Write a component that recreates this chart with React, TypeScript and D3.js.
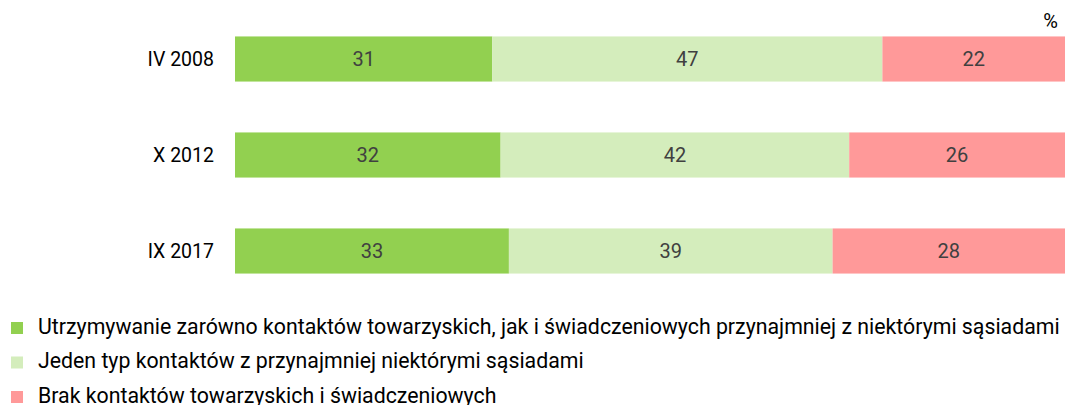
import React from "react";
import * as d3 from "d3";

const categories = ["IV 2008", "X 2012", "IX 2017"];
const seriesNames = [
  "Utrzymywanie zarówno kontaktów towarzyskich, jak i świadczeniowych przynajmniej z niektórymi sąsiadami",
  "Jeden typ kontaktów z przynajmniej niektórymi sąsiadami",
  "Brak kontaktów towarzyskich i świadczeniowych",
];
const both = [31, 32, 33];
const oneType = [47, 42, 39];
const none = [22, 26, 28];
const colors = ["#92d050", "#d4edbc", "#ff9999"];

const W = 1065;
const H = 405;

export default function App() {
  const series = [both, oneType, none];
  const x = d3.scaleLinear().domain([0, 100]).range([235, 1065]);
  const y = d3.scaleBand().domain(categories).range([11, 299]).paddingInner(0.53).paddingOuter(0.265);
  const font = "Roboto, sans-serif";
  return (
    <svg width={W} height={H} style={{ position: "absolute", left: 0, top: 0 }} fontFamily={font} fontWeight={400}>
      <rect width={W} height={H} fill="#fff" />
      <text x={1058} y={28} textAnchor="end" fontSize={20} fill="#000">%</text>
      {categories.map((c, i) => {
        let acc = 0;
        const y0 = y(c)!;
        const bw = y.bandwidth();
        return (
          <g key={c}>
            <text x={214} y={y0 + bw / 2} dy="0.35em" textAnchor="end" fontSize={19.5} fill="#000">{c}</text>
            {series.map((s, k) => {
              const v = s[i];
              const x0 = x(acc);
              acc += v;
              const x1 = x(acc);
              return (
                <g key={k}>
                  <rect x={x0} y={y0} width={x1 - x0} height={bw} fill={colors[k]} />
                  <text x={(x0 + x1) / 2} y={y0 + bw / 2} dy="0.35em" textAnchor="middle" fontSize={20} fill="#404040">{v}</text>
                </g>
              );
            })}
          </g>
        );
      })}
      {seriesNames.map((n, k) => (
        <g key={n} transform={`translate(0, ${333.5 + k * 34.5})`}>
          <rect x={11} y={-11.5} width={12} height={12} fill={colors[k]} />
          <text x={38} y={0} fontSize={21.3} fill="#000">{n}</text>
        </g>
      ))}
    </svg>
  );
}
